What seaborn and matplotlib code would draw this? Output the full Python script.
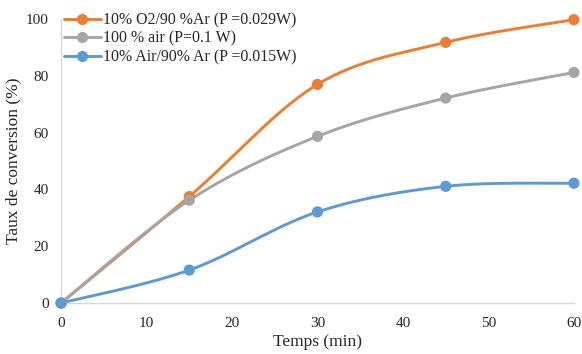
import numpy as np
import pandas as pd
import matplotlib
matplotlib.use("Agg")
import matplotlib.pyplot as plt
from matplotlib.lines import Line2D
import seaborn as sns

# Données
temps = [0, 15, 30, 45, 60]
o2_ar = [0, 37.5, 77, 91.8, 99.8]
air_100 = [0, 36.2, 58.7, 72.2, 81.2]
air_ar = [0, 11.6, 32.1, 41.1, 42.2]

labels = ['10% O2/90 %Ar (P =0.029W)', '100 % air (P=0.1 W)', '10% Air/90% Ar (P =0.015W)']
couleurs = ['#ED7D31', '#A5A5A5', '#5B9BD5']

sns.set_style("white")
plt.rcParams['font.family'] = ['Liberation Serif', 'DejaVu Serif']


def courbe_lisse(x, y, n=40):
    # lissage type Excel (Bezier, Catmull-Rom)
    x = np.asarray(x, float)
    y = np.asarray(y, float)
    pts = np.column_stack([x, y])
    pts_ext = np.vstack([pts[0], pts, pts[-1]])
    out = []
    for i in range(len(pts) - 1):
        p0, p1, p2, p3 = pts_ext[i], pts_ext[i + 1], pts_ext[i + 2], pts_ext[i + 3]
        c1 = p1 + (p2 - p0) / 6
        c2 = p2 - (p3 - p1) / 6
        t = np.linspace(0, 1, n)[:, None]
        seg = ((1 - t) ** 3) * p1 + 3 * ((1 - t) ** 2) * t * c1 + 3 * (1 - t) * t ** 2 * c2 + t ** 3 * p2
        out.append(seg)
    seg = np.vstack(out)
    return seg[:, 0], seg[:, 1]


df = pd.DataFrame({
    'temps': temps * 3,
    'taux': o2_ar + air_100 + air_ar,
    'serie': [labels[0]] * 5 + [labels[1]] * 5 + [labels[2]] * 5,
})

fig = plt.figure(figsize=(5.82, 3.54), dpi=100)
ax = fig.add_axes([0.105, 0.144, 0.881, 0.802])

for serie, c in zip(labels, couleurs):
    d = df[df['serie'] == serie]
    xs, ys = courbe_lisse(d['temps'], d['taux'])
    ax.plot(xs, ys, color=c, lw=2.1, clip_on=False, zorder=2)

sns.scatterplot(data=df, x='temps', y='taux', hue='serie', palette=couleurs,
                s=65, edgecolor='none', legend=False, ax=ax, clip_on=False, zorder=3)

ax.set_xlim(0, 60)
ax.set_ylim(0, 100)
ax.set_xticks(range(0, 61, 10))
ax.set_yticks(range(0, 101, 20))
ax.tick_params(axis='x', length=0, labelsize=11, pad=10)
ax.tick_params(axis='y', length=0, labelsize=11, pad=9)
ax.set_xlabel('Temps (min)', fontsize=12.5, labelpad=3)
ax.set_ylabel('Taux de conversion (%)', fontsize=12.5, labelpad=3)

for s in ['top', 'right']:
    ax.spines[s].set_visible(False)
for s in ['left', 'bottom']:
    ax.spines[s].set_color('#D9D9D9')
    ax.spines[s].set_linewidth(1)

handles = [Line2D([0], [0], color=c, lw=2.1, marker='o', markersize=7) for c in couleurs]
ax.legend(handles, labels, loc='upper left', bbox_to_anchor=(0.006, 1.024), frameon=False,
          fontsize=11.4, handlelength=2.3, labelspacing=0.15, borderaxespad=0, borderpad=0,
          handletextpad=0.12)

plt.savefig('out.png', dpi=100)
